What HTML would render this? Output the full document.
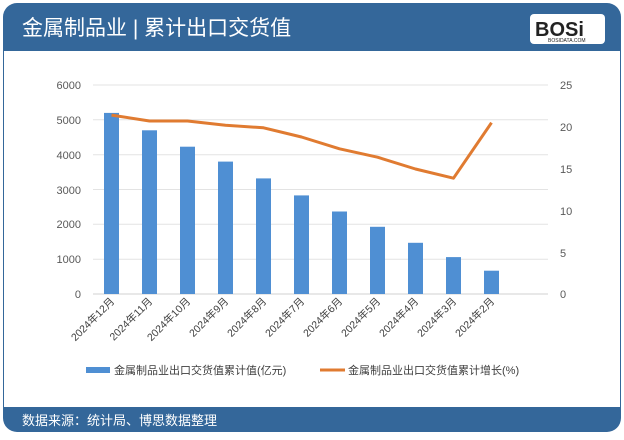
<!DOCTYPE html>
<html><head><meta charset="utf-8"><style>
body{margin:0;background:#fff;width:624px;height:435px;overflow:hidden;font-family:"Liberation Sans","Noto Sans CJK SC",sans-serif}
</style></head><body>
<svg width="624" height="435" viewBox="0 0 624 435" xmlns="http://www.w3.org/2000/svg" font-family="Liberation Sans, Noto Sans CJK SC, sans-serif">
<rect x="3" y="3" width="618" height="429" rx="14" fill="#34679a"/>
<rect x="4" y="51" width="616" height="356" fill="#fff"/>
<text x="22" y="35" fill="#fff" font-size="21">金属制品业 | 累计出口交货值</text>
<rect x="530" y="14" width="75" height="30" rx="4" fill="#fff"/>
<text x="535" y="36" font-size="20" font-weight="bold" fill="#222">BOSi</text>
<text x="548" y="42" font-size="5" fill="#222">BOSIDATA.COM</text>
<text x="22" y="425" fill="#fff" font-size="13">数据来源：统计局、博思数据整理</text>
<g stroke="#e3e3e3" stroke-width="1">
<line x1="93" x2="548" y1="85" y2="85"/><line x1="93" x2="548" y1="119.8" y2="119.8"/><line x1="93" x2="548" y1="154.7" y2="154.7"/><line x1="93" x2="548" y1="189.5" y2="189.5"/><line x1="93" x2="548" y1="224.3" y2="224.3"/><line x1="93" x2="548" y1="259.2" y2="259.2"/><line x1="93" x2="548" y1="294" y2="294" stroke="#d0d0d0"/>
</g>
<g font-size="11" fill="#595959" text-anchor="end">
<text x="81" y="89">6000</text><text x="81" y="124">5000</text><text x="81" y="159">4000</text><text x="81" y="194">3000</text><text x="81" y="228">2000</text><text x="81" y="263">1000</text><text x="81" y="298">0</text>
</g>
<g font-size="11" fill="#595959">
<text x="560" y="89">25</text><text x="560" y="131">20</text><text x="560" y="173">15</text><text x="560" y="215">10</text><text x="560" y="257">5</text><text x="560" y="298">0</text>
</g>
<g fill="#4f8fd3">
<rect x="104" y="112.9" width="15" height="181.1"/>
<rect x="142" y="130.3" width="15" height="163.7"/>
<rect x="180" y="146.7" width="15" height="147.3"/>
<rect x="218" y="161.6" width="15" height="132.4"/>
<rect x="256" y="178.4" width="15" height="115.6"/>
<rect x="294" y="195.4" width="15" height="98.6"/>
<rect x="332" y="211.5" width="15" height="82.5"/>
<rect x="370" y="226.8" width="15" height="67.2"/>
<rect x="408" y="242.8" width="15" height="51.2"/>
<rect x="446" y="257.1" width="15" height="36.9"/>
<rect x="484" y="270.7" width="15" height="23.3"/>
</g>
<polyline fill="none" stroke="#e07b31" stroke-width="3" stroke-linejoin="round" points="111.5,115.1 149.5,121 187.5,121 225.5,125.2 263.5,127.8 301.5,137 339.5,148.8 377.5,157.2 415.5,169 453.5,178.2 491.5,122.7"/>
<g font-size="10.5" fill="#404040" text-anchor="end">
<text transform="translate(115,302) rotate(-45)">2024年12月</text>
<text transform="translate(153,302) rotate(-45)">2024年11月</text>
<text transform="translate(191,302) rotate(-45)">2024年10月</text>
<text transform="translate(229,302) rotate(-45)">2024年9月</text>
<text transform="translate(267,302) rotate(-45)">2024年8月</text>
<text transform="translate(305,302) rotate(-45)">2024年7月</text>
<text transform="translate(343,302) rotate(-45)">2024年6月</text>
<text transform="translate(381,302) rotate(-45)">2024年5月</text>
<text transform="translate(419,302) rotate(-45)">2024年4月</text>
<text transform="translate(457,302) rotate(-45)">2024年3月</text>
<text transform="translate(495,302) rotate(-45)">2024年2月</text>
</g>
<rect x="86" y="367" width="24" height="6" fill="#4f8fd3"/>
<text x="114" y="374" font-size="11" fill="#404040">金属制品业出口交货值累计值(亿元)</text>
<line x1="320" x2="345" y1="370" y2="370" stroke="#e07b31" stroke-width="3"/>
<text x="348" y="374" font-size="11" fill="#404040">金属制品业出口交货值累计增长(%)</text>
</svg>
</body></html>
